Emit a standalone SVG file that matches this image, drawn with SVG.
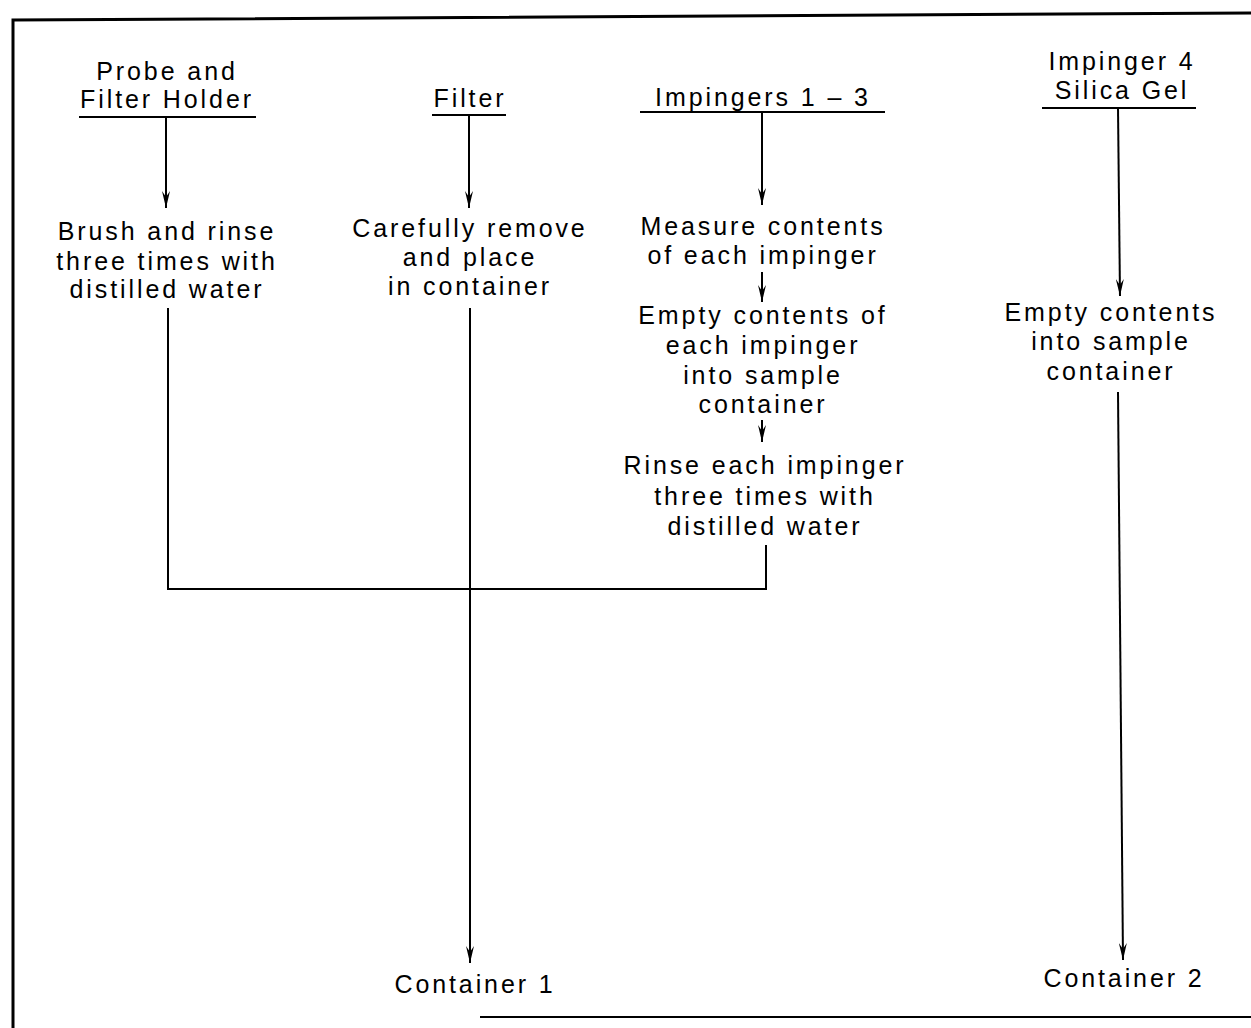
<svg xmlns="http://www.w3.org/2000/svg" width="1251" height="1028" viewBox="0 0 1251 1028">
<style>
text{font-family:"Liberation Sans",Arial,sans-serif;font-size:25px;letter-spacing:2.9px;fill:#000;text-anchor:middle}
.ln{stroke:#000;stroke-width:2;fill:none}
.fr{stroke:#000;stroke-width:3;fill:none}
</style>
<defs>
<marker id="ah" viewBox="0 0 18 8" refX="17" refY="4" markerWidth="18" markerHeight="8" markerUnits="userSpaceOnUse" orient="auto">
<path d="M0,0 L17,4 L0,8 L6,4 Z" fill="#000"/>
</marker>
</defs>
<rect width="1251" height="1028" fill="#fff"/>
<g id="frame">
<path class="fr" d="M13,1028 L13,20 L1251,13"/>
<path class="ln" d="M480,1017 L1251,1017"/>
</g>
<g id="connectors">
<path class="ln" d="M166,117 V208" marker-end="url(#ah)"/>
<path class="ln" d="M469,115 V208" marker-end="url(#ah)"/>
<path class="ln" d="M762,112 V205" marker-end="url(#ah)"/>
<path class="ln" d="M762,272 V302" marker-end="url(#ah)"/>
<path class="ln" d="M762,420 V442" marker-end="url(#ah)"/>
<path class="ln" d="M1118,108 L1120,296" marker-end="url(#ah)"/>
<path class="ln" d="M168,308 V589 H766 V545"/>
<path class="ln" d="M470,308 V963" marker-end="url(#ah)"/>
<path class="ln" d="M1118,392 L1123,960" marker-end="url(#ah)"/>
</g>
<g id="probe">
<text x="167" y="80">Probe and</text>
<text x="167" y="108">Filter Holder</text>
<path class="ln" d="M79,117 H256"/>
</g>
<g id="filter">
<text x="470" y="107">Filter</text>
<path class="ln" d="M432,115 H506"/>
</g>
<g id="impingers13">
<text x="763" y="106">Impingers 1 – 3</text>
<path class="ln" d="M640,112 H885"/>
</g>
<g id="impinger4">
<text x="1122" y="70">Impinger 4</text>
<text x="1122" y="99">Silica Gel</text>
<path class="ln" d="M1042,108 H1196"/>
</g>
<g id="brush">
<text x="167" y="240">Brush and rinse</text>
<text x="167" y="270">three times with</text>
<text x="167" y="298">distilled water</text>
</g>
<g id="carefully">
<text x="470" y="237">Carefully remove</text>
<text x="470" y="266">and place</text>
<text x="470" y="295">in container</text>
</g>
<g id="measure">
<text x="763" y="235">Measure contents</text>
<text x="763" y="264">of each impinger</text>
</g>
<g id="empty13">
<text x="763" y="324">Empty contents of</text>
<text x="763" y="354">each impinger</text>
<text x="763" y="384">into sample</text>
<text x="763" y="413">container</text>
</g>
<g id="rinse">
<text x="765" y="474">Rinse each impinger</text>
<text x="765" y="505">three times with</text>
<text x="765" y="535">distilled water</text>
</g>
<g id="empty4">
<text x="1111" y="321">Empty contents</text>
<text x="1111" y="350">into sample</text>
<text x="1111" y="380">container</text>
</g>
<g id="container1">
<text x="475" y="993">Container 1</text>
</g>
<g id="container2">
<text x="1124" y="987">Container 2</text>
</g>
</svg>
